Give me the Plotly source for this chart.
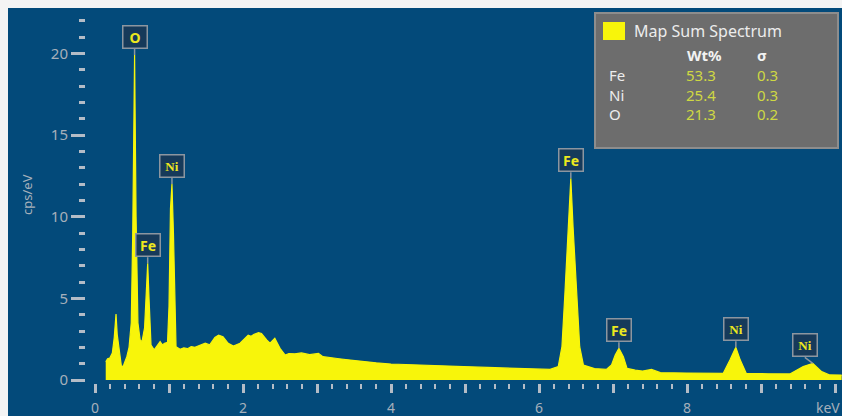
import numpy as np
import plotly.graph_objects as go

# ---- EDS spectrum (energy in keV, intensity in cps/eV) ----
energy_kev = [
    0.145, 0.17, 0.20, 0.234, 0.26, 0.284, 0.30, 0.338, 0.36, 0.39, 0.43, 0.46,
    0.49, 0.51, 0.535, 0.555, 0.58, 0.61, 0.635, 0.67, 0.70, 0.712, 0.73, 0.757,
    0.80, 0.83, 0.88, 0.91, 0.94, 0.98, 1.00, 1.02, 1.04, 1.06, 1.08, 1.095,
    1.15, 1.20, 1.25, 1.30, 1.35, 1.42, 1.49, 1.55, 1.62, 1.67, 1.73, 1.80,
    1.87, 1.96, 2.02, 2.07, 2.11, 2.15, 2.21, 2.25, 2.32, 2.365, 2.43, 2.50,
    2.57, 2.62, 2.70, 2.79, 2.90, 3.02, 3.08, 3.20, 3.30, 3.45, 3.63, 3.80,
    4.00, 4.30, 4.65, 4.98, 5.30, 5.65, 5.90, 6.15, 6.26, 6.31, 6.35, 6.40,
    6.43, 6.46, 6.51, 6.55, 6.60, 6.75, 6.91, 6.98, 7.03, 7.08, 7.14, 7.19,
    7.30, 7.40, 7.52, 7.64, 8.00, 8.49, 8.58, 8.66, 8.72, 8.80, 9.10, 9.39,
    9.57, 9.70, 9.82, 9.93, 10.09,
]
counts_cps_ev = [
    1.12, 1.30, 1.35, 1.65, 2.60, 4.04, 2.80, 1.43, 0.73, 0.95, 1.43, 2.00,
    3.50, 9.00, 19.9, 10.0, 3.50, 2.45, 2.35, 3.20, 6.60, 7.15, 5.00, 2.14,
    1.84, 2.05, 2.35, 2.15, 2.25, 2.30, 4.50, 10.5, 12.0, 9.00, 4.00, 2.04,
    1.88, 1.97, 1.92, 2.05, 2.00, 2.15, 2.25, 2.15, 2.60, 2.75, 2.65, 2.25,
    2.08, 2.25, 2.55, 2.75, 2.68, 2.80, 2.90, 2.85, 2.45, 2.25, 2.55, 1.94,
    1.53, 1.62, 1.60, 1.66, 1.55, 1.63, 1.43, 1.38, 1.30, 1.22, 1.12, 1.05,
    0.98, 0.92, 0.87, 0.82, 0.77, 0.71, 0.68, 0.65, 0.82, 2.04, 5.30, 9.40,
    12.35, 9.40, 4.90, 2.04, 0.92, 0.70, 0.65, 0.92, 1.53, 1.94, 1.43, 0.71,
    0.60, 0.55, 0.65, 0.45, 0.43, 0.41, 1.22, 2.00, 1.22, 0.41, 0.38, 0.37,
    0.82, 1.02, 0.51, 0.31, 0.30,
]

# ---- identified peaks ----
peak_names = ["O", "Fe", "Ni", "Fe", "Fe", "Ni", "Ni"]
peak_energy = [0.535, 0.712, 1.04, 6.43, 7.08, 8.66, 9.70]

# ---- quantification table ----
quant_elements = ["Fe", "Ni", "O"]
quant_wt = ["53.3", "25.4", "21.3"]
quant_sigma = ["0.3", "0.3", "0.2"]
spectrum_name = "Map Sum Spectrum"

x_major = list(range(0, 11))
x_major_text = ["0", "", "2", "", "4", "", "6", "", "8", "", ""]
x_unit = "keV"
x_minor = [round(i * 0.2, 1) for i in range(51) if i % 5 != 0]
y_major = [0, 5, 10, 15, 20]
y_minor = [v for v in range(0, 23) if v % 5 != 0]

# ---- layout geometry ----
W, H = 842, 416
L, T = 8, 8
PW, PH = W - L, H - T
X0_PX, KEV_PX = 95, 74.0
Y0_PX, CPS_PX = 380, 16.33
xmin = -(X0_PX - L) / KEV_PX
xmax = xmin + PW / KEV_PX
ymin = -(H - Y0_PX) / CPS_PX
ymax = ymin + PH / CPS_PX


def fx(px):
    return (px - L) / PW


def fy(py):
    return (H - py) / PH


BG = "#034a7a"
YELLOW = "#f8f50a"
TICK = "#b4bcc6"
TICKFONT = "#a6b0bb"
SANS = "Noto Sans, Open Sans, sans-serif"

fig = go.Figure()
fig.add_trace(go.Scatter(
    x=energy_kev, y=counts_cps_ev, mode="lines",
    line=dict(color=YELLOW, width=1.2),
    fill="tozeroy", fillcolor=YELLOW, hoverinfo="skip", showlegend=False,
))

annotations = []
peak_height = np.interp(peak_energy, energy_kev, counts_cps_ev)
for name, e, h in zip(peak_names, peak_energy, peak_height):
    fam = "Liberation Serif, serif" if name == "Ni" else SANS
    annotations.append(dict(
        x=e, y=float(h), xref="x", yref="y", text=f"<b>{name}</b>",
        showarrow=True, arrowhead=0, arrowwidth=1.5, arrowcolor="#8c96a0",
        ax=-8 if e > 9.5 else 0, ay=-6, xanchor="center", yanchor="bottom",
        width=21, height=19, borderpad=1, borderwidth=1.5,
        bgcolor="#163a5a", bordercolor="#8c96a0",
        font=dict(family=fam, size=14 if name != "Ni" else 13, color="#ece81e"),
    ))

# unit label at the end of the energy axis
annotations.append(dict(
    x=1.0, y=fy(407), xref="paper", yref="paper", text=x_unit,
    xanchor="right", yanchor="middle", showarrow=False,
    font=dict(family=SANS, size=14, color=TICKFONT),
))

# axis title
annotations.append(dict(
    x=fx(27), y=fy(195), xref="paper", yref="paper", text="cps/eV",
    xanchor="center", yanchor="middle",
    textangle=-90, showarrow=False, font=dict(family=SANS, size=13, color=TICKFONT),
))

# quantification panel text
annotations.append(dict(
    x=fx(632), y=fy(31), xref="paper", yref="paper", text=spectrum_name,
    xanchor="left", yanchor="middle", showarrow=False,
    font=dict(family=SANS, size=16, color="#ececec"),
))
for label, cx in (("<b>Wt%</b>", 704), ("<b>σ</b>", 762)):
    annotations.append(dict(
        x=fx(cx), y=fy(55), xref="paper", yref="paper", text=label,
        xanchor="center", yanchor="middle", showarrow=False,
        font=dict(family=SANS, size=15, color="#f2f2f2"),
    ))
for i, (el, wt, sg) in enumerate(zip(quant_elements, quant_wt, quant_sigma)):
    yy = fy(75 + i * 19.5)
    annotations.append(dict(x=fx(607), y=yy, xref="paper", yref="paper", text=el,
                            xanchor="left", yanchor="middle", showarrow=False,
                            font=dict(family=SANS, size=15, color="#ececec")))
    annotations.append(dict(x=fx(701), y=yy, xref="paper", yref="paper", text=wt,
                            xanchor="center", yanchor="middle", showarrow=False,
                            font=dict(family=SANS, size=15, color="#cfd843")))
    annotations.append(dict(x=fx(767), y=yy, xref="paper", yref="paper", text=sg,
                            xanchor="center", yanchor="middle", showarrow=False,
                            font=dict(family=SANS, size=15, color="#cfd843")))

shapes = [
    dict(type="rect", xref="paper", yref="paper",
         x0=fx(595), x1=fx(838), y0=fy(148), y1=fy(13),
         fillcolor="#6d6d6d", line=dict(color="#8d8d8d", width=2), layer="above"),
    dict(type="rect", xref="paper", yref="paper",
         x0=fx(603), x1=fx(625), y0=fy(40), y1=fy(22),
         fillcolor=YELLOW, line=dict(width=0), layer="above"),
]

fig.update_layout(
    width=W, height=H,
    margin=dict(l=L, r=0, t=T, b=0, pad=0),
    paper_bgcolor="#f4f4f4", plot_bgcolor=BG,
    showlegend=False,
    annotations=annotations, shapes=shapes,
    xaxis=dict(
        range=[xmin, xmax], anchor="free", position=fy(383),
        showgrid=False, zeroline=False, showline=False,
        tickmode="array", tickvals=x_major, ticktext=x_major_text,
        ticks="outside", ticklen=9, tickwidth=2.5, tickcolor=TICK,
        ticklabelstandoff=3,
        tickfont=dict(family=SANS, size=14, color=TICKFONT),
        minor=dict(tickmode="array", tickvals=x_minor, ticks="outside",
                   ticklen=5, tickwidth=2, tickcolor=TICK),
    ),
    yaxis=dict(
        range=[ymin, ymax], anchor="free", position=fx(85),
        showgrid=False, zeroline=False, showline=False,
        tickmode="array", tickvals=y_major,
        ticks="outside", ticklen=14, tickwidth=2.5, tickcolor=TICK,
        tickfont=dict(family=SANS, size=15, color=TICKFONT),
        minor=dict(tickmode="array", tickvals=y_minor, ticks="outside",
                   ticklen=6, tickwidth=3, tickcolor=TICK),
    ),
)

fig.write_html("out.html")
